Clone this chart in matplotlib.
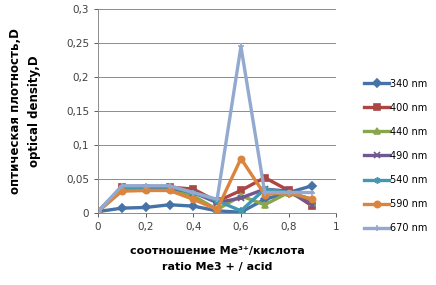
import matplotlib
matplotlib.use("Agg")
import matplotlib.pyplot as plt
from matplotlib.ticker import FuncFormatter

# ratio Me3+/acid
x = [0, 0.1, 0.2, 0.3, 0.4, 0.5, 0.6, 0.7, 0.8, 0.9]

d340 = [0.002, 0.007, 0.008, 0.012, 0.010, 0.003, 0.001, 0.020, 0.030, 0.040]
d400 = [0.002, 0.038, 0.037, 0.038, 0.035, 0.017, 0.033, 0.052, 0.033, 0.010]
d440 = [0.002, 0.035, 0.035, 0.035, 0.025, 0.005, 0.025, 0.012, 0.030, 0.015]
d490 = [0.002, 0.037, 0.037, 0.037, 0.030, 0.015, 0.022, 0.035, 0.032, 0.012]
d540 = [0.002, 0.037, 0.038, 0.038, 0.030, 0.018, 0.003, 0.035, 0.030, 0.020]
d590 = [0.002, 0.032, 0.033, 0.033, 0.020, 0.005, 0.080, 0.027, 0.030, 0.020]
d670 = [0.002, 0.040, 0.040, 0.040, 0.030, 0.020, 0.245, 0.030, 0.030, 0.030]

series = [
    ("340 nm", d340, "#4572A7", "D"),
    ("400 nm", d400, "#AA4643", "s"),
    ("440 nm", d440, "#89A54E", "^"),
    ("490 nm", d490, "#71588F", "x"),
    ("540 nm", d540, "#4198AF", (6, 2, 0)),
    ("590 nm", d590, "#DB843D", "o"),
    ("670 nm", d670, "#93A9CF", "+"),
]

fig = plt.figure(figsize=(4.36, 2.85), dpi=100)
ax = fig.add_axes([0.225, 0.253, 0.546, 0.715])

for name, vals, col, mk in series:
    ax.plot(x, vals, color=col, lw=2.4, marker=mk, ms=4.5, mew=1.2, label=name)

ax.set_xlim(0, 1)
ax.set_ylim(0, 0.3)
ax.set_xticks([0, 0.2, 0.4, 0.6, 0.8, 1])
ax.set_yticks([0, 0.05, 0.1, 0.15, 0.2, 0.25, 0.3])
fmt = FuncFormatter(lambda v, p: ("%g" % round(v, 2)).replace(".", ","))
ax.xaxis.set_major_formatter(fmt)
ax.yaxis.set_major_formatter(fmt)
ax.tick_params(labelsize=7.5, colors="#404040", length=3, width=0.6)
ax.grid(axis="y", color="#8c8c8c", lw=0.7)
ax.set_axisbelow(True)
for s in ["top", "right"]:
    ax.spines[s].set_visible(False)
for s in ["left", "bottom"]:
    ax.spines[s].set_color("#8c8c8c")
    ax.spines[s].set_linewidth(0.7)

ax.set_xlabel("соотношение Me³⁺/кислота\nratio Me3 + / acid",
              fontsize=8, fontweight="bold", labelpad=10, linespacing=1.75)
ax.set_ylabel("оптическая плотность,D\noptical density,D",
              fontsize=8.5, fontweight="bold", labelpad=18, linespacing=1.6)

ax.legend(loc="center left", bbox_to_anchor=(1.08, 0.28), frameon=False,
          fontsize=7, labelspacing=1.45, handlelength=2.6, handletextpad=0.1)

fig.savefig("out.png", dpi=100)
